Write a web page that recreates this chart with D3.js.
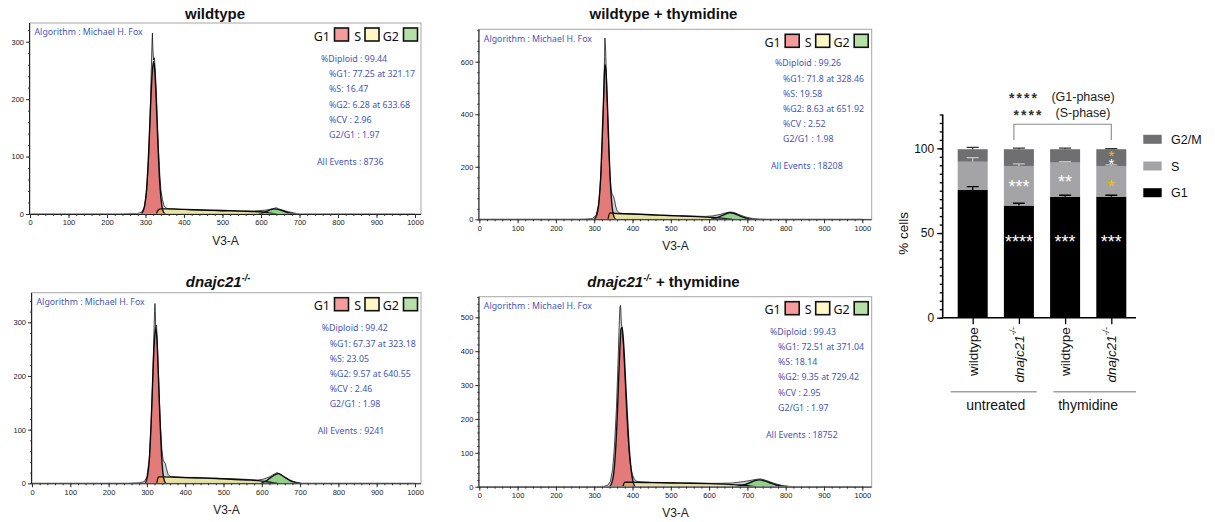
<!DOCTYPE html>
<html>
<head>
<meta charset="utf-8">
<script src="https://cdn.jsdelivr.net/npm/d3@7"></script>
<style>
  body { margin: 0; background: #fff; }
  svg { display: block; }
</style>
</head>
<body>
<div id="chart"></div>
<script>
// ---- histogram data: [channel (V3-A), count] ----
const wtRaw = [[0,0],[240,0],[260,1],[280,1],[290,3],[297,12],[303,40],[308,95],[312,170],[315,250],[317,300],[318,315],[319,290],[321,268],[323,272],[325,255],[328,215],[331,160],[334,110],[337,70],[340,42],[344,25],[348,15],[352,11],[358,9],[370,9],[385,8],[400,8],[420,7],[440,7],[460,6],[480,6],[500,5],[520,6],[540,5],[560,5],[580,5],[600,6],[615,7],[630,9],[640,11],[645,9],[655,7],[670,4],[685,2],[700,0],[1000,0]];
const wtG1 = [[290,0],[298,15],[303,45],[308,105],[313,185],[318,250],[321,265],[324,250],[328,195],[332,125],[336,65],[340,28],[344,9],[348,2],[352,0]];
const wtS = [[328,0],[333,7],[340,9],[360,9],[400,8],[450,7],[500,6],[550,5],[590,4],[610,3],[625,1.5],[640,0]];
const wtG2 = [[595,0],[605,2],[615,4.5],[625,7.5],[634,9],[645,8],[655,6],[665,3.5],[675,1.5],[690,0]];

const wtThyRaw = [[0,0],[260,0],[280,1],[295,3],[305,15],[312,60],[318,180],[322,330],[325,480],[327,620],[328,690],[330,640],[332,540],[335,400],[338,270],[341,170],[344,115],[347,95],[350,88],[353,75],[356,50],[360,32],[366,24],[375,22],[400,20],[430,18],[460,16],[500,14],[530,13],[560,12],[590,11],[610,13],[630,19],[645,25],[655,28],[665,26],[680,17],[695,9],[710,4],[730,1],[750,0],[1000,0]];
const wtThyG1 = [[300,0],[307,18],[312,60],[317,160],[321,320],[325,480],[328,590],[331,560],[335,420],[339,250],[343,120],[347,45],[351,12],[356,0]];
const wtThyS = [[336,0],[341,24],[350,23],[380,21],[420,19],[470,16],[520,13],[570,10],[610,7],[640,3],[660,0]];
const wtThyG2 = [[605,0],[620,6],[635,15],[648,23],[655,25],[665,22],[680,13],[695,5],[712,0]];

const koRaw = [[0,0],[250,0],[280,1],[293,3],[300,12],[306,45],[311,110],[315,190],[318,270],[320,320],[321,335],[322,320],[323,290],[325,295],[327,270],[330,210],[333,150],[336,100],[339,65],[342,45],[345,40],[348,37],[351,28],[355,17],[360,13],[380,12],[400,11],[430,11],[460,10],[500,9],[540,8],[570,7],[590,6],[605,8],[620,12],[632,17],[640,20],[648,17],[660,11],[675,5],[690,2],[705,0],[1000,0]];
const koG1 = [[296,0],[302,15],[307,50],[312,130],[316,210],[320,270],[323,290],[326,270],[330,200],[334,120],[338,55],[342,18],[346,4],[350,0]];
const koS = [[326,0],[330,12],[340,12],[380,11],[430,10],[480,9],[530,7],[570,6],[600,4],[625,1.5],[640,0]];
const koG2 = [[598,0],[610,4],[622,10],[635,16],[643,18],[652,15],[665,9],[680,3],[700,0]];

const koThyRaw = [[0,0],[300,0],[325,1],[335,4],[342,15],[348,50],[353,120],[358,230],[362,360],[365,470],[367,530],[369,535],[371,480],[373,470],[376,420],[380,330],[384,230],[388,150],[392,90],[396,55],[400,35],[405,22],[412,15],[425,14],[450,13],[500,12],[550,11],[600,10],[630,10],[660,11],[690,15],[710,19],[725,22],[735,23],[745,20],[760,14],[775,8],[790,4],[810,1],[830,0],[1000,0]];
const koThyG1 = [[340,0],[346,12],[351,40],[356,110],[361,230],[366,380],[370,465],[373,470],[377,420],[382,310],[387,200],[392,105],[397,45],[402,12],[407,0]];
const koThyS = [[375,0],[380,13],[400,13],[450,12],[500,11],[550,10],[600,9],[650,7],[680,5],[700,3],[720,0]];
const koThyG2 = [[670,0],[690,5],[705,11],[720,18],[732,20],[745,17],[760,11],[775,5],[792,1],[805,0]];

const wtStats = ["%Diploid : 99.44", "%G1: 77.25 at 321.17", "%S: 16.47", "%G2: 6.28 at 633.68", "%CV : 2.96", "G2/G1 : 1.97", "All Events : 8736"];
const wtThyStats = ["%Diploid : 99.26", "%G1: 71.8 at 328.46", "%S: 19.58", "%G2: 8.63 at 651.92", "%CV : 2.52", "G2/G1 : 1.98", "All Events : 18208"];
const koStats = ["%Diploid : 99.42", "%G1: 67.37 at 323.18", "%S: 23.05", "%G2: 9.57 at 640.55", "%CV : 2.46", "G2/G1 : 1.98", "All Events : 9241"];
const koThyStats = ["%Diploid : 99.43", "%G1: 72.51 at 371.04", "%S: 18.14", "%G2: 9.35 at 729.42", "%CV : 2.95", "G2/G1 : 1.97", "All Events : 18752"];

const histXTicks = [0, 100, 200, 300, 400, 500, 600, 700, 800, 900, 1000];
const phaseLegend = ["G1", "S", "G2"];

// ---- bar chart data ----
const barCategories = ["wildtype", "dnajc21", "wildtype", "dnajc21"];
const barGroups = ["untreated", "thymidine"];
const barG1 = [75.4, 66.2, 71.5, 71.5];
const barS = [16.7, 23.4, 20.1, 18.1];
const barG2 = [7.4, 9.9, 7.9, 9.9];
const errG1 = [2.0, 1.4, 0.8, 0.8];
const errS = [2.4, 1.2, 0.6, 0.6];
const errG2 = [1.1, 0.6, 0.6, 0.4];
const barYTicks = [0, 50, 100];
const barLegend = ["G2/M", "S", "G1"];
// significance marks: bar index, y value (% cells), [text, colour] lines from top
const barStars = [
  [1, 47, [["****", "#fff"]]], [2, 47, [["***", "#fff"]]], [3, 47, [["***", "#fff"]]],
  [1, 80, [["***", "#fff"]]], [2, 83, [["**", "#fff"]]], [3, 80, [["*", "#f2c200"]]],
  [3, 97.5, [["*", "#f2c200"], ["*", "#fff"]]]
];
const bracketLabels = [["****", "(G1-phase)"], ["****", "(S-phase)"]];

const svg = d3.select("#chart").append("svg")
  .attr("width", 1215)
  .attr("height", 522);
const defs = svg.append("defs");

const blue = "#4656b8";
const axisFont = "'Liberation Sans', Arial, sans-serif";
const fcsFont = "'Noto Sans', 'Open Sans', sans-serif";

const panels = [
  { id: "p1", title: [{ t: "wildtype" }], raw: wtRaw, g1: wtG1, s: wtS, g2: wtG2, stats: wtStats,
    left: 30, right: 421, top: 23, y0: 214, x1000: 415, yRef: 300, yRefPx: 41.7,
    yTicks: [0, 100, 200, 300], yMinor: 20, statsX: 321, statsY: 62, titleX: 215, titleY: 18.5 },
  { id: "p2", title: [{ t: "wildtype + thymidine" }], raw: wtThyRaw, g1: wtThyG1, s: wtThyS, g2: wtThyG2, stats: wtThyStats,
    left: 479.3, right: 871.7, top: 29.3, y0: 219.3, x1000: 862.3, yRef: 600, yRefPx: 61.7,
    yTicks: [0, 200, 400, 600], yMinor: 40, statsX: 775, statsY: 66.3, titleX: 663.5, titleY: 19 },
  { id: "p3", title: [{ t: "dnajc21", i: true }, { t: "-/-", i: true, sup: true }], raw: koRaw, g1: koG1, s: koS, g2: koG2, stats: koStats,
    left: 32, right: 421, top: 292.7, y0: 483.3, x1000: 415, yRef: 300, yRefPx: 322.3,
    yTicks: [0, 100, 200, 300], yMinor: 20, statsX: 321.7, statsY: 331.3, titleX: 218, titleY: 286.5 },
  { id: "p4", title: [{ t: "dnajc21", i: true }, { t: "-/-", i: true, sup: true }, { t: " + thymidine" }], raw: koThyRaw, g1: koThyG1, s: koThyS, g2: koThyG2, stats: koThyStats,
    left: 479.3, right: 871.7, top: 296.7, y0: 486.7, x1000: 862.3, yRef: 500, yRefPx: 317.3,
    yTicks: [0, 100, 200, 300, 400, 500], yMinor: 20, statsX: 770, statsY: 334.7, titleX: 663.5, titleY: 286.5 }
];

panels.forEach(p => {
  const x = d3.scaleLinear().domain([0, 1000]).range([p.left, p.x1000]);
  const y = d3.scaleLinear().domain([0, p.yRef]).range([p.y0, p.yRefPx]);
  const yTop = y.invert(p.top);
  const g = svg.append("g");

  const smoothArea = d3.area().x(d => x(d[0])).y0(y(0)).y1(d => y(d[1])).curve(d3.curveMonotoneX);
  const smoothLine = d3.line().x(d => x(d[0])).y(d => y(d[1])).curve(d3.curveMonotoneX);
  const roughArea = d3.area().x(d => x(d[0])).y0(y(0)).y1(d => y(d[1]));
  const roughLine = d3.line().x(d => x(d[0])).y(d => y(d[1]));

  defs.append("clipPath").attr("id", p.id + "-frame")
    .append("rect")
    .attr("x", p.left).attr("y", p.top)
    .attr("width", p.right - p.left).attr("height", p.y0 - p.top);
  defs.append("clipPath").attr("id", p.id + "-g1")
    .append("path").attr("d", smoothArea(p.g1));

  const plot = g.append("g").attr("clip-path", `url(#${p.id}-frame)`);
  plot.append("path").attr("d", roughArea(p.raw)).attr("fill", "#d2d2d2");
  plot.append("path").attr("d", smoothArea(p.g1)).attr("fill", "#e47b7b");
  plot.append("path").attr("d", smoothArea(p.s)).attr("fill", "#e8e4a4");
  plot.append("path").attr("d", smoothArea(p.s)).attr("fill", "#f0a05c")
    .attr("clip-path", `url(#${p.id}-g1)`);
  plot.append("path").attr("d", smoothArea(p.g2)).attr("fill", "#90d28a");
  [p.g1, p.s, p.g2].forEach(c => {
    plot.append("path").attr("d", smoothLine(c))
      .attr("fill", "none").attr("stroke", "#111").attr("stroke-width", 1.4);
  });
  plot.append("path").attr("d", roughLine(p.raw))
    .attr("fill", "none").attr("stroke", "#000").attr("stroke-width", 0.7);

  // frame
  g.append("rect")
    .attr("x", p.left).attr("y", p.top)
    .attr("width", p.right - p.left).attr("height", p.y0 - p.top)
    .attr("fill", "none").attr("stroke", "#a6a6a6").attr("stroke-width", 1);

  // x axis
  const xAxis = g.append("g").attr("transform", `translate(0,${p.y0})`)
    .call(d3.axisBottom(x).tickValues(histXTicks).tickFormat(d3.format("d"))
      .tickSize(4).tickPadding(2).tickSizeOuter(0));
  g.append("g").attr("transform", `translate(0,${p.y0})`)
    .call(d3.axisBottom(x).tickValues(d3.range(0, 1001, 20)).tickSize(2).tickFormat("").tickSizeOuter(0))
    .select(".domain").remove();
  xAxis.select(".domain").attr("d", `M${p.left},0.5H${p.right}`).attr("stroke", "#222");

  // y axis
  const yAxis = g.append("g").attr("transform", `translate(${p.left},0)`)
    .call(d3.axisLeft(y).tickValues(p.yTicks).tickSize(4).tickPadding(2).tickSizeOuter(0));
  g.append("g").attr("transform", `translate(${p.left},0)`)
    .call(d3.axisLeft(y).tickValues(d3.range(0, yTop, p.yMinor)).tickSize(2).tickFormat("").tickSizeOuter(0))
    .select(".domain").remove();
  yAxis.select(".domain").attr("d", `M-0.5,${p.y0}V${p.top}`).attr("stroke", "#222");

  g.selectAll(".tick line").attr("stroke", "#333");
  g.selectAll(".tick text")
    .style("font-family", axisFont).style("font-size", "7.5px").attr("fill", "#222");

  g.append("text")
    .attr("x", (p.left + p.right) / 2)
    .attr("y", p.y0 + 30.5)
    .attr("text-anchor", "middle")
    .style("font-family", axisFont).style("font-size", "12px").attr("fill", "#222")
    .text("V3-A");

  // title
  const title = g.append("text")
    .attr("x", p.titleX).attr("y", p.titleY)
    .attr("text-anchor", "middle")
    .style("font-family", axisFont).style("font-size", "15px").style("font-weight", "bold")
    .attr("fill", "#111");
  let raised = false;
  p.title.forEach(part => {
    const ts = title.append("tspan").text(part.t)
      .style("font-style", part.i ? "italic" : "normal");
    if (part.sup) {
      ts.attr("dy", -6).style("font-size", "9px");
      raised = true;
    } else if (raised) {
      ts.attr("dy", 6);
      raised = false;
    }
  });

  // algorithm note
  g.append("text")
    .attr("x", p.left + 4.5).attr("y", p.top + 12.3)
    .style("font-family", fcsFont).style("font-size", "8.8px").attr("fill", blue)
    .text("Algorithm : Michael H. Fox");

  // stats block
  p.stats.forEach((s, i) => {
    const last = i === p.stats.length - 1;
    g.append("text")
      .attr("x", p.statsX + (i === 0 ? 0 : last ? -4 : 8))
      .attr("y", last ? p.statsY + 103 : p.statsY + i * 15.2)
      .style("font-family", fcsFont).style("font-size", "8.8px").attr("fill", blue)
      .text(s);
  });

  // phase legend
  const R = p.right - 3.5;
  const legendFill = ["#f49b9b", "#fdf7c6", "#b6e1a6"];
  const boxRight = [R - 69, R - 38.5, R];
  const textEnd = [R - 87.5, R - 56.5, R - 18.5];
  phaseLegend.forEach((name, i) => {
    g.append("text")
      .attr("x", textEnd[i]).attr("y", p.top + 17.5)
      .attr("text-anchor", "end")
      .style("font-family", fcsFont).style("font-size", "12.5px").attr("fill", "#111")
      .text(name);
    g.append("rect")
      .attr("x", boxRight[i] - 14).attr("y", p.top + 5)
      .attr("width", 14).attr("height", 13)
      .attr("fill", legendFill[i]).attr("stroke", "#111").attr("stroke-width", 1.6);
  });
});

// ---- stacked bar chart ----
const bars = barCategories.map((c, i) => ({ i, g1: barG1[i], s: barS[i], g2: barG2[i] }));
const stack = d3.stack().keys(["g1", "s", "g2"])(bars);
const bx = d3.scalePoint().domain(d3.range(barCategories.length)).range([972.7, 1111.3]);
const by = d3.scaleLinear().domain([0, 120]).range([317.7, 114.5]);
const barW = 30;
const barColor = { g1: "#000", s: "#a4a4a6", g2: "#6f6f71" };
const bc = svg.append("g");

stack.forEach(layer => {
  bc.selectAll(null)
    .data(layer)
    .join("rect")
    .attr("x", d => bx(d.data.i) - barW / 2)
    .attr("width", barW)
    .attr("y", d => by(d[1]))
    .attr("height", d => by(d[0]) - by(d[1]))
    .attr("fill", barColor[layer.key]);
});

// error bars (upper half)
const errSets = [
  { key: 0, err: errG1, color: "#000" },
  { key: 1, err: errS, color: "#c4c4c6" },
  { key: 2, err: errG2, color: "#333" }
];
errSets.forEach(e => {
  stack[e.key].forEach(d => {
    const cx = bx(d.data.i);
    const top = d[1] + e.err[d.data.i];
    bc.append("path")
      .attr("d", `M${cx},${by(d[1])}V${by(top)}M${cx - 6},${by(top)}H${cx + 6}`)
      .attr("fill", "none").attr("stroke", e.color).attr("stroke-width", 1.3);
  });
});

// stars (one text per position, stacked lines as tspans)
barStars.forEach(([i, v, lines]) => {
  const fs = lines.length > 1 ? 15 : 18;
  const t = bc.append("text")
    .attr("x", bx(i)).attr("y", by(v) + 0.575 * fs)
    .attr("text-anchor", "middle")
    .style("font-family", axisFont).style("font-size", fs + "px");
  lines.forEach(([txt, col], k) => {
    t.append("tspan")
      .attr("x", bx(i)).attr("dy", k === 0 ? 0 : 7.5)
      .attr("fill", col).text(txt);
  });
});

// y axis
const byAxis = bc.append("g").attr("transform", "translate(942.7,0)")
  .call(d3.axisLeft(by).tickValues(barYTicks).tickSize(5.5).tickPadding(3).tickSizeOuter(0));
bc.append("g").attr("transform", "translate(942.7,0)")
  .call(d3.axisLeft(by).tickValues(d3.range(0, 121, 5)).tickSize(3).tickFormat("").tickSizeOuter(0))
  .select(".domain").remove();
byAxis.select(".domain").attr("d", `M0,${by(0)}V${by(120)}`);
bc.selectAll(".tick line").attr("stroke", "#000").attr("stroke-width", 1.3);
byAxis.select(".domain").attr("stroke", "#000").attr("stroke-width", 1.6);
byAxis.selectAll(".tick text")
  .style("font-family", axisFont).style("font-size", "12px").attr("fill", "#111");

// x axis
const bxAxis = bc.append("g").attr("transform", `translate(0,${by(0)})`)
  .call(d3.axisBottom(bx).tickSize(6.5).tickFormat("").tickSizeOuter(0));
bxAxis.select(".domain").attr("d", "M942.7,0H1136").attr("stroke", "#000").attr("stroke-width", 1.6);
bxAxis.selectAll(".tick line").attr("stroke", "#000").attr("stroke-width", 1.3);

barCategories.forEach((c, i) => {
  const t = bc.append("text")
    .attr("transform", `translate(${bx(i)},${by(0) + 9.5}) rotate(-90)`)
    .attr("text-anchor", "end")
    .attr("dy", "0.36em")
    .style("font-family", axisFont).style("font-size", "13.5px").attr("fill", "#111");
  if (c === "wildtype") {
    t.text(c);
  } else {
    t.append("tspan").style("font-style", "italic").text(c);
    t.append("tspan").style("font-style", "italic").style("font-size", "8.5px").attr("dy", "-0.9em").text("-/-");
  }
});

bc.append("text")
  .attr("transform", "translate(908,233.3) rotate(-90)")
  .attr("text-anchor", "middle")
  .style("font-family", axisFont).style("font-size", "13.5px").attr("fill", "#111")
  .text("% cells");

// treatment group lines
const groupSpans = [[950.7, 1036.7], [1053.3, 1136]];
barGroups.forEach((name, i) => {
  const [a, b] = groupSpans[i];
  bc.append("line")
    .attr("x1", a).attr("x2", b).attr("y1", 391.7).attr("y2", 391.7)
    .attr("stroke", "#a0a0a0").attr("stroke-width", 1.5);
  bc.append("text")
    .attr("x", (bx(i * 2) + bx(i * 2 + 1)) / 2).attr("y", 410)
    .attr("text-anchor", "middle")
    .style("font-family", axisFont).style("font-size", "14px").attr("fill", "#111")
    .text(name);
});

// comparison bracket
bc.append("path")
  .attr("d", `M${bx(1) - 5},140V124.3H${bx(3)}V140`)
  .attr("fill", "none").attr("stroke", "#8a8a8a").attr("stroke-width", 1.1);
const bracketRows = [[1024, 1083, 95, 100.5], [1028.5, 1083, 111.7, 117]];
bracketLabels.forEach(([st, lab], k) => {
  const [ax, tx, starMid, base] = bracketRows[k];
  bc.append("text")
    .attr("x", ax).attr("y", starMid + 0.575 * 14)
    .attr("text-anchor", "middle")
    .style("font-family", axisFont).style("font-size", "14px").style("font-weight", "bold")
    .style("letter-spacing", "2px")
    .attr("fill", "#333")
    .text(st);
  bc.append("text")
    .attr("x", tx).attr("y", base)
    .attr("text-anchor", "middle")
    .style("font-family", axisFont).style("font-size", "12.5px").attr("fill", "#222")
    .text(lab);
});

// legend
const legendColors = [barColor.g2, barColor.s, barColor.g1];
barLegend.forEach((name, i) => {
  const cy = 139.3 + i * 26.7;
  bc.append("rect")
    .attr("x", 1143.3).attr("y", cy - 4.5)
    .attr("width", 18.4).attr("height", 9)
    .attr("fill", legendColors[i]);
  bc.append("text")
    .attr("x", 1171).attr("y", cy + 4.5)
    .style("font-family", axisFont).style("font-size", "12.5px").attr("fill", "#111")
    .text(name);
});
</script>
</body>
</html>
